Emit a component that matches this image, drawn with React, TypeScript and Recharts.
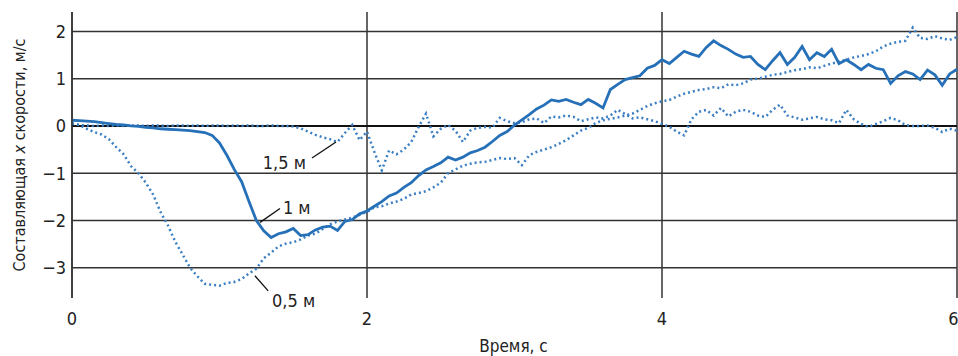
import React from 'react';
import { LineChart, Line, XAxis, YAxis, CartesianGrid, ReferenceLine, ReferenceDot, Label } from 'recharts';

const time = [
  0, 0.05, 0.1, 0.15, 0.2, 0.25, 0.3, 0.35, 0.4, 0.45, 0.5, 0.55, 0.6, 0.65, 0.7, 0.75, 0.8, 0.85, 0.9, 0.95,
  1, 1.05, 1.1, 1.15, 1.2, 1.25, 1.3, 1.35, 1.4, 1.45, 1.5, 1.55, 1.6, 1.65, 1.7, 1.75, 1.8, 1.85, 1.9, 1.95,
  2, 2.05, 2.1, 2.15, 2.2, 2.25, 2.3, 2.35, 2.4, 2.45, 2.5, 2.55, 2.6, 2.65, 2.7, 2.75, 2.8, 2.85, 2.9, 2.95,
  3, 3.05, 3.1, 3.15, 3.2, 3.25, 3.3, 3.35, 3.4, 3.45, 3.5, 3.55, 3.6, 3.65, 3.7, 3.75, 3.8, 3.85, 3.9, 3.95,
  4, 4.05, 4.1, 4.15, 4.2, 4.25, 4.3, 4.35, 4.4, 4.45, 4.5, 4.55, 4.6, 4.65, 4.7, 4.75, 4.8, 4.85, 4.9, 4.95,
  5, 5.05, 5.1, 5.15, 5.2, 5.25, 5.3, 5.35, 5.4, 5.45, 5.5, 5.55, 5.6, 5.65, 5.7, 5.75, 5.8, 5.85, 5.9, 5.95,
  6,
];

// 0,5 м
const depth05 = [
  0.05, 0.02, -0.06, -0.13, -0.18, -0.28, -0.45, -0.6, -0.85, -1.0, -1.2, -1.45, -1.82, -2.1, -2.45, -2.72, -3.0, -3.18, -3.34, -3.36,
  -3.38, -3.32, -3.3, -3.24, -3.12, -3.02, -2.8, -2.68, -2.55, -2.49, -2.46, -2.4, -2.32, -2.28, -2.18, -2.08, -2.02, -1.98, -1.94, -1.88,
  -1.82, -1.72, -1.7, -1.64, -1.6, -1.54, -1.45, -1.42, -1.38, -1.3, -1.2, -1.0, -0.92, -0.84, -0.8, -0.77, -0.76, -0.72, -0.68, -0.7,
  -0.68, -0.83, -0.62, -0.55, -0.5, -0.45, -0.38, -0.3, -0.2, -0.1, -0.04, 0.06, 0.12, 0.15, 0.18, 0.22, 0.26, 0.34, 0.42, 0.48,
  0.52, 0.55, 0.62, 0.68, 0.72, 0.76, 0.78, 0.82, 0.8, 0.88, 0.86, 0.9, 0.98, 1.0, 1.04, 1.08, 1.1, 1.14, 1.18, 1.2,
  1.24, 1.22, 1.27, 1.32, 1.36, 1.4, 1.45, 1.48, 1.52, 1.58, 1.68, 1.74, 1.78, 1.8, 2.08, 1.86, 1.84, 1.9, 1.85, 1.82,
  1.88,
];

// 1 м
const depth1 = [
  0.12, 0.11, 0.1, 0.09, 0.07, 0.05, 0.03, 0.02, 0.0, -0.01, -0.03, -0.04, -0.06, -0.07, -0.08, -0.09, -0.1, -0.12, -0.14, -0.2,
  -0.36, -0.62, -0.92, -1.18, -1.6, -2.0, -2.22, -2.36, -2.28, -2.24, -2.17, -2.32, -2.3, -2.2, -2.14, -2.12, -2.21, -2.02, -1.98, -1.86,
  -1.8, -1.7, -1.6, -1.48, -1.42, -1.3, -1.2, -1.05, -0.93, -0.86, -0.78, -0.66, -0.72, -0.66, -0.57, -0.52, -0.45, -0.33, -0.2, -0.12,
  0.02, 0.13, 0.24, 0.36, 0.44, 0.55, 0.52, 0.56, 0.5, 0.45, 0.56, 0.48, 0.38, 0.77, 0.88, 0.98, 1.02, 1.06, 1.22, 1.28,
  1.4, 1.32, 1.45, 1.58, 1.52, 1.47, 1.66, 1.8, 1.7, 1.62, 1.52, 1.45, 1.47, 1.3, 1.19, 1.38, 1.55, 1.3, 1.45, 1.68,
  1.4, 1.55, 1.47, 1.62, 1.32, 1.4, 1.3, 1.19, 1.3, 1.22, 1.19, 0.9, 1.06, 1.15, 1.1, 0.98, 1.18, 1.08, 0.86, 1.1,
  1.2,
];

// 1,5 м
const depth15 = [
  0.05, 0.02, 0.01, 0.0, 0.01, 0.0, 0.01, 0.0, 0.01, 0.01, 0.0, 0.01, 0.01, 0.0, 0.01, 0.01, 0.0, 0.01, 0.0, 0.01,
  0.01, 0.0, 0.01, 0.0, 0.01, 0.0, 0.0, 0.01, 0.0, 0.0, -0.01, -0.05, -0.12, -0.19, -0.24, -0.28, -0.34, -0.15, 0.02, -0.3,
  -0.12, -0.55, -0.94, -0.52, -0.6, -0.5, -0.34, -0.02, 0.26, -0.22, -0.06, 0.02, -0.1, -0.34, -0.1, -0.04, -0.02, -0.04, 0.17, 0.1,
  0.06, 0.08, 0.14, 0.16, 0.06, 0.2, 0.18, 0.22, 0.19, 0.1, 0.14, 0.18, 0.16, 0.22, 0.34, 0.25, 0.16, 0.18, 0.14, 0.1,
  0.04, -0.02, -0.12, -0.2, 0.14, 0.3, 0.34, 0.22, 0.38, 0.2, 0.3, 0.34, 0.3, 0.22, 0.19, 0.34, 0.45, 0.22, 0.18, 0.13,
  0.16, 0.19, 0.14, 0.12, 0.06, 0.34, 0.14, 0.04, -0.02, 0.04, 0.1, 0.17, 0.12, 0.02, 0.0, 0.0, 0.01, -0.04, -0.13, -0.06,
  -0.1,
];

const xTicks = [0, 2, 4, 6];
const yTicks = [-3, -2, -1, 0, 1, 2];

// подписи кривых: текст, положение текста, выноска
const labelNames = ['1,5 м', '1 м', '0,5 м'];
const labelAt = [
  { x: 1.586, y: -0.77, anchor: 'end' },
  { x: 1.43, y: -1.72, anchor: 'start' },
  { x: 1.356, y: -3.7, anchor: 'start' },
];
const leaders = [
  [{ x: 1.627, y: -0.68 }, { x: 1.79, y: -0.34 }],
  [{ x: 1.275, y: -2.04 }, { x: 1.41, y: -1.745 }],
  [{ x: 1.24, y: -3.17 }, { x: 1.33, y: -3.49 }],
];

const data = time.map((t, i) => ({ t, d05: depth05[i], d1: depth1[i], d15: depth15[i] }));

const FONT = "'Liberation Sans Narrow', 'DejaVu Sans Condensed', 'Roboto Condensed', Roboto, sans-serif";
const BLUE = '#2670b8';
const DOT_BLUE = '#3b7fc2';

const fmt = (v: number) => (v < 0 ? '\u2212' + Math.abs(v) : String(v));

export default function App() {
  return (
    <div style={{ position: 'absolute', left: 0, top: 0, width: 958, height: 356, background: '#fff' }}>
      <LineChart width={958} height={356} data={data} margin={{ top: 12, right: 1, left: 0, bottom: 18 }}>
        <CartesianGrid stroke="#333" strokeWidth={1.5} horizontalValues={yTicks} verticalValues={xTicks} />
        <XAxis
          type="number"
          dataKey="t"
          domain={[0, 6]}
          ticks={xTicks}
          axisLine={false}
          tickLine={false}
          tickMargin={8}
          height={40}
          tick={{ fill: '#222', fontSize: 18, fontFamily: FONT }}
        >
          <Label
            content={({ viewBox }: any) => (
              <text
                x={viewBox.x + viewBox.width / 2 - 1}
                y={352}
                textAnchor="middle"
                fill="#222"
                fontSize={17}
                fontFamily={FONT}
              >
                Время, с
              </text>
            )}
          />
        </XAxis>
        <YAxis
          type="number"
          domain={[-3.64, 2.41]}
          ticks={yTicks}
          width={72}
          axisLine={{ stroke: '#333', strokeWidth: 1.5 }}
          tickLine={false}
          tickSize={4}
          tickMargin={2}
          tickFormatter={fmt}
          tick={{ fill: '#222', fontSize: 18, fontFamily: FONT }}
        >
          <Label
            content={({ viewBox }: any) => {
              const cx = 19;
              const cy = viewBox.y + viewBox.height / 2;
              return (
                <text
                  x={cx}
                  y={cy}
                  transform={`rotate(-90 ${cx} ${cy})`}
                  textAnchor="middle"
                  dominantBaseline="central"
                  fill="#222"
                  fontSize={16}
                  fontFamily={FONT}
                >
                  Составляющая <tspan fontStyle="italic">x</tspan> скорости, м/с
                </text>
              );
            }}
          />
        </YAxis>
        <ReferenceLine y={0} stroke="#111" strokeWidth={2} />
        <Line type="linear" dataKey="d15" stroke={DOT_BLUE} strokeWidth={2.5} strokeDasharray="2 3" dot={false} isAnimationActive={false} />
        <Line type="linear" dataKey="d05" stroke={DOT_BLUE} strokeWidth={2.5} strokeDasharray="2 3" dot={false} isAnimationActive={false} />
        <Line type="linear" dataKey="d1" stroke={BLUE} strokeWidth={2.8} dot={false} isAnimationActive={false} />
        {leaders.map((seg, i) => (
          <ReferenceLine key={'l' + i} segment={seg} stroke="#111" strokeWidth={1.3} ifOverflow="visible" />
        ))}
        {labelAt.map((p, i) => (
          <ReferenceDot
            key={'t' + i}
            x={p.x}
            y={p.y}
            ifOverflow="visible"
            shape={(props: any) => (
              <text
                x={props.cx}
                y={props.cy}
                textAnchor={p.anchor}
                dominantBaseline="central"
                fill="#222"
                fontSize={18}
                fontFamily={FONT}
              >
                {labelNames[i]}
              </text>
            )}
          />
        ))}
      </LineChart>
    </div>
  );
}
